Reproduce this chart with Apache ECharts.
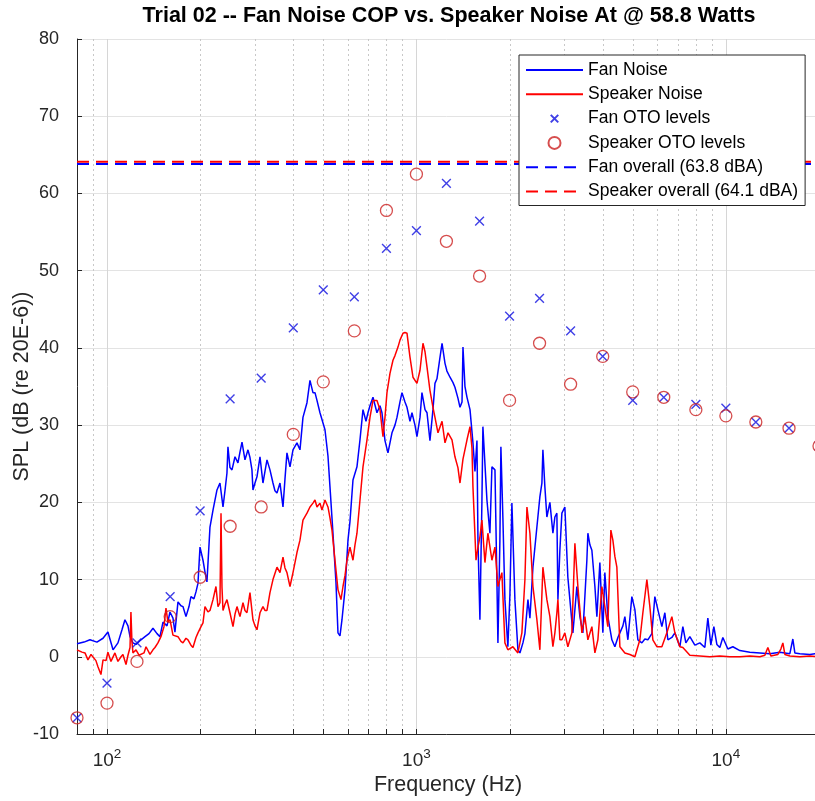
<!DOCTYPE html>
<html><head><meta charset="utf-8">
<script src="https://cdn.jsdelivr.net/npm/echarts@6/dist/echarts.min.js"></script>
<style>html,body{margin:0;padding:0;background:#fff}#c{width:815px;height:801px}</style>
</head><body><div id="c"></div>
<script>
// ---- data (frequency Hz, level dB) ----
const fanNoise = [[80,1.7],[84.3,1.9],[88.1,2.2],[92.8,1.9],[97.1,2.4],[100.7,3.2],[104.6,0.9],[108.5,1.8],[111.8,3.5],[114.3,4.8],[116.9,4.0],[118.7,2.6],[121.3,1.8],[124.1,1.6],[128.8,2.2],[132.7,2.6],[136.7,3.0],[140.8,3.7],[145.1,3.0],[148.3,2.6],[151.7,4.5],[156.3,4.0],[159.8,5.8],[163.4,5.0],[165.8,3.2],[169.6,7.1],[173.4,6.6],[176.0,6.5],[180.0,5.2],[184.1,6.5],[186.8,7.8],[191.0,7.5],[193.9,8.4],[196.8,9.5],[199.8,14.2],[204.3,12.5],[207.3,11.0],[210.4,9.7],[215.2,16.8],[220.1,19.0],[226.7,21.6],[231.8,22.5],[237.1,19.4],[240.6,21.5],[244.2,23.8],[246.0,27.2],[249.7,24.5],[253.5,24.2],[259.2,25.9],[265.0,25.1],[269.0,26.5],[273.1,27.8],[279.2,25.5],[285.5,26.8],[289.8,25.8],[294.1,24.2],[296.3,21.6],[300.8,22.5],[305.3,23.3],[312.2,25.9],[319.2,22.5],[324.0,24.0],[328.9,25.5],[336.3,24.2],[343.9,22.5],[349.0,21.5],[354.3,21.2],[362.3,22.5],[370.5,19.4],[376.0,23.0],[381.6,26.4],[390.3,24.6],[399.1,26.8],[411.1,27.7],[420.4,26.8],[429.9,31.0],[442.9,32.9],[452.9,35.8],[463.1,34.2],[470.1,34.2],[477.1,33.2],[487.9,31.6],[506.4,29.4],[517.8,26.0],[525.6,22.0],[537.4,16.0],[549.6,9.6],[557.8,3.1],[566.2,2.7],[574.7,4.8],[587.7,8.7],[600.9,15.1],[609.9,17.5],[623.7,22.9],[642.5,24.6],[657.1,28.1],[671.9,32.0],[687.0,30.5],[697.3,31.6],[707.8,32.5],[723.8,33.6],[745.6,31.6],[762.5,32.5],[773.9,31.6],[791.4,28.0],[809.2,26.4],[833.7,29.0],[852.5,30.0],[865.3,31.0],[884.9,33.0],[898.1,34.2],[918.4,33.0],[932.2,32.3],[953.2,30.5],[967.5,31.6],[989.3,30.0],[1004,28.5],[1027,31.0],[1042,34.2],[1066,32.0],[1082,31.6],[1106,28.0],[1131,32.0],[1148,35.4],[1165,36.0],[1192,38.8],[1210,40.6],[1237,38.0],[1255,37.0],[1284,36.2],[1313,35.5],[1332,34.9],[1362,33.5],[1383,32.3],[1404,33.0],[1414,40.1],[1435,35.0],[1457,33.6],[1490,32.0],[1523,27.7],[1546,24.0],[1569,28.0],[1581,15.0],[1604,4.8],[1628,20.0],[1640,29.8],[1665,25.0],[1690,20.3],[1728,16.0],[1754,24.6],[1794,24.2],[1820,10.0],[1834,1.8],[1861,15.0],[1875,27.2],[1903,18.0],[1932,7.4],[1975,1.3],[2005,8.0],[2035,19.9],[2081,7.4],[2128,0.9],[2160,0.5],[2209,1.8],[2242,3.0],[2293,7.4],[2327,5.0],[2380,11.6],[2451,16.8],[2506,20.7],[2544,22.5],[2563,26.8],[2601,22.0],[2640,18.1],[2700,20.0],[2761,16.0],[2802,18.1],[2844,18.6],[2866,7.4],[2908,13.8],[2952,18.6],[3018,19.4],[3086,10.3],[3133,7.4],[3204,3.1],[3300,9.1],[3375,5.2],[3451,3.1],[3555,12.5],[3582,16.0],[3636,14.5],[3690,13.8],[3774,9.1],[3830,5.2],[3916,12.2],[4004,3.1],[4064,10.9],[4156,5.2],[4282,2.2],[4379,1.3],[4478,2.5],[4545,3.1],[4648,4.0],[4717,5.2],[4824,2.2],[4969,7.8],[5082,6.1],[5196,2.2],[5353,1.8],[5474,2.3],[5597,2.2],[5766,3.0],[5896,7.8],[6029,6.1],[6212,3.9],[6352,5.7],[6495,2.2],[6692,2.5],[6843,3.1],[7102,1.3],[7262,3.9],[7426,1.8],[7650,2.6],[7940,1.5],[8241,1.8],[8553,1.2],[8746,5.0],[8944,1.5],[9146,3.9],[9353,1.6],[9563,1.2],[9779,2.5],[10150,1.0],[10535,1.3],[11098,0.8],[11956,0.6],[12880,0.5],[13873,0.4],[14946,0.6],[16100,0.4],[16463,2.3],[16710,0.5],[17338,0.4],[18681,0.3],[19396,0.4],[20000,0.4]];

const speakerNoise = [[80,0.9],[83.0,0.6],[84.9,0.5],[86.8,-0.4],[88.8,0.3],[90.1,0.5],[92.1,-0.5],[93.5,-1.3],[95.6,-2.3],[97.1,-0.4],[99.3,-0.5],[100.7,0.6],[103.0,-0.6],[106.1,0.5],[108.5,-0.6],[111.0,0.0],[112.6,0.3],[115.2,-1.0],[116.9,0.2],[118.7,1.2],[119.5,5.8],[120.4,2.0],[121.3,0.5],[124.1,0.9],[126.9,0.2],[128.8,0.0],[131.7,0.5],[133.7,1.3],[137.7,0.3],[140.8,0.9],[142.9,1.2],[146.1,1.8],[149.4,2.6],[152.8,3.9],[155.1,6.3],[157.4,4.5],[159.8,4.8],[163.4,2.8],[165.8,3.0],[169.6,2.6],[173.4,2.0],[176.0,1.8],[180.0,2.4],[182.7,2.2],[186.8,1.5],[189.6,1.2],[193.9,2.5],[196.8,3.1],[201.3,3.9],[204.3,4.4],[207.3,6.5],[212.0,5.8],[215.2,6.0],[220.1,7.4],[225.0,9.1],[228.4,6.5],[231.8,7.0],[233.6,18.6],[235.3,9.0],[237.1,6.0],[240.6,6.8],[244.2,7.4],[249.7,5.7],[255.4,3.9],[259.2,5.5],[263.1,6.5],[269.0,5.2],[275.1,7.0],[279.2,6.0],[283.4,5.7],[289.8,8.3],[296.3,4.8],[300.8,4.0],[305.3,3.5],[312.2,5.7],[319.2,6.5],[324.0,6.0],[328.9,6.0],[336.3,8.3],[343.9,10.0],[354.3,11.6],[362.3,10.9],[370.5,12.9],[376.0,11.5],[381.6,10.9],[390.3,9.1],[399.1,10.9],[411.1,13.5],[420.4,15.1],[429.9,17.7],[442.9,18.6],[452.9,19.4],[463.1,19.9],[470.1,20.3],[477.1,19.4],[487.9,19.9],[495.2,19.0],[506.4,20.3],[517.8,19.4],[525.6,18.0],[533.5,16.4],[545.5,12.5],[557.8,8.7],[570.4,7.4],[579.0,9.1],[587.7,10.5],[596.5,12.5],[609.9,14.2],[623.7,12.5],[633.1,14.5],[642.5,16.0],[657.1,20.3],[671.9,24.6],[692.2,28.1],[707.8,31.0],[723.8,33.2],[745.6,33.2],[762.5,32.0],[779.7,28.5],[791.4,31.0],[803.2,34.2],[821.4,36.7],[839.9,38.4],[852.5,39.0],[871.8,40.1],[884.9,41.0],[904.8,41.9],[918.4,42.0],[932.2,41.9],[953.2,38.8],[974.7,36.2],[1004,35.4],[1027,37.1],[1050,40.6],[1066,39.5],[1082,37.5],[1106,34.5],[1131,32.3],[1148,31.0],[1174,29.0],[1210,30.5],[1237,27.7],[1265,29.0],[1303,28.1],[1332,25.9],[1362,24.5],[1383,22.5],[1414,25.6],[1457,28.1],[1490,29.8],[1512,27.0],[1523,22.0],[1558,12.5],[1581,14.2],[1604,15.5],[1628,17.7],[1665,12.2],[1702,16.0],[1754,12.5],[1794,14.2],[1834,9.1],[1889,10.9],[1932,1.8],[1975,0.9],[2050,1.3],[2128,0.5],[2192,3.1],[2242,10.0],[2276,19.4],[2327,16.0],[2380,9.1],[2451,4.8],[2506,0.9],[2563,11.6],[2640,7.4],[2700,5.2],[2761,1.3],[2802,3.1],[2844,5.7],[2866,7.4],[2908,2.2],[2952,2.2],[3018,3.1],[3086,1.3],[3180,3.1],[3252,14.7],[3325,9.1],[3426,3.1],[3503,5.2],[3582,2.2],[3690,3.9],[3774,0.5],[3859,2.2],[3975,9.1],[4064,6.5],[4156,3.9],[4250,16.4],[4314,15.1],[4379,13.0],[4444,11.6],[4545,1.3],[4717,0.5],[4896,0.3],[5082,0.0],[5274,2.2],[5393,5.7],[5556,10.0],[5681,6.5],[5809,2.2],[5985,1.3],[6212,1.3],[6447,3.1],[6692,5.2],[6843,3.1],[7102,1.3],[7262,1.2],[7650,0.2],[8241,0.1],[8878,0.0],[9563,0.1],[10302,0.0],[11098,0.0],[11956,0.1],[12880,0.0],[13368,0.2],[13670,1.2],[13977,0.1],[14726,0.3],[15058,1.0],[15285,1.8],[15513,0.3],[16100,0.1],[17338,0.0],[18681,0.1],[20000,0.0]];

const otoFreq = [80,100,125,160,200,250,315,400,500,630,800,1000,1250,1600,2000,2500,3150,4000,5000,6300,8000,10000,12500,16000,20000];
const fanOto = [-7.9,-3.4,1.8,7.8,18.9,33.4,36.1,42.6,47.5,46.6,52.9,55.2,61.3,56.4,44.1,46.4,42.2,38.9,33.2,33.6,32.7,32.2,30.4,29.6,27.3];
const speakerOto = [-7.9,-6.0,-0.6,5.2,10.3,16.9,19.4,28.8,35.6,42.2,57.8,62.5,53.8,49.3,33.2,40.6,35.3,38.9,34.3,33.6,32.0,31.2,30.4,29.6,27.3];
const fanOverall = 63.8;
const speakerOverall = 64.1;
const minorFreqs = [90,200,300,400,500,600,700,800,900,2000,3000,4000,5000,6000,7000,8000,9000];
const xMin = 80, xMax = 20000, yMin = -10, yMax = 80, yStep = 10;
const names = ['Fan Noise','Speaker Noise','Fan OTO levels','Speaker OTO levels','Fan overall (63.8 dBA)','Speaker overall (64.1 dBA)'];

const FONT = 'Arial, "Liberation Sans", Helvetica, sans-serif';
const AX = '#262626';
const BLUE = '#0000ff', RED = '#ff0000';
const hideSym = {color: 'rgba(0,0,0,0)', borderColor: 'rgba(0,0,0,0)', borderWidth: 0, opacity: 0};

const chart = echarts.init(document.getElementById('c'), null, {renderer: 'canvas'});
chart.setOption({
  animation: false,
  backgroundColor: '#ffffff',
  textStyle: {fontFamily: FONT},
  title: {
    text: 'Trial 02 -- Fan Noise COP vs. Speaker Noise At @ 58.8 Watts',
    left: 444, top: 0, textAlign: 'center',
    textStyle: {fontSize: 21.5, fontWeight: 'bold', color: '#000', fontFamily: FONT}
  },
  grid: {left: 77, right: -4, top: 39, bottom: 67, containLabel: false, outerBoundsMode: 'none'},
  legend: {
    orient: 'vertical', left: 519, top: 55, z: 20,
    padding: [6, 7, 5, 6], itemGap: 6.3, itemWidth: 57, itemHeight: 12,
    backgroundColor: '#fff', borderColor: AX, borderWidth: 1,
    selectedMode: false,
    textStyle: {fontSize: 17.5, color: '#000', fontFamily: FONT},
    data: [
      {name: names[0], itemStyle: hideSym},
      {name: names[1], itemStyle: hideSym},
      {name: names[2]},
      {name: names[3]},
      {name: names[4], itemStyle: hideSym},
      {name: names[5], itemStyle: hideSym}
    ]
  },
  xAxis: {
    type: 'log', logBase: 10, min: xMin, max: xMax,
    name: 'Frequency (Hz)', nameLocation: 'middle', nameGap: 40, nameMoveOverlap: false,
    nameTextStyle: {fontSize: 21.5, color: AX, fontFamily: FONT},
    axisLine: {show: true, onZero: false, lineStyle: {color: AX, width: 1}},
    axisTick: {show: true, inside: true, length: 5, lineStyle: {color: AX}},
    splitLine: {show: true, lineStyle: {color: '#d6d6d6', width: 1}},
    axisLabel: {
      margin: 13,
      formatter: function (v) {
        const e = Math.round(Math.log10(v));
        return Math.abs(v - Math.pow(10, e)) < 1e-6 * v ? '{b|10}{s|' + e + '}' : '';
      },
      rich: {
        b: {fontSize: 19, color: AX, fontFamily: FONT, verticalAlign: 'bottom', padding: [4, 0, 0, 0]},
        s: {fontSize: 13.5, color: AX, fontFamily: FONT, verticalAlign: 'top'}
      }
    }
  },
  yAxis: {
    type: 'value', min: yMin, max: yMax, interval: yStep,
    name: 'SPL (dB (re 20E-6))', nameLocation: 'middle', nameGap: 44, nameMoveOverlap: false,
    nameTextStyle: {fontSize: 21.5, color: AX, fontFamily: FONT},
    axisLine: {show: true, onZero: false, lineStyle: {color: AX, width: 1}},
    axisTick: {show: true, inside: true, length: 5, lineStyle: {color: AX}},
    splitLine: {show: true, lineStyle: {color: '#e3e3e3', width: 1}},
    axisLabel: {margin: 18, fontSize: 18, color: AX, fontFamily: FONT}
  },
  series: [
    {
      type: 'custom', name: 'minorGrid', silent: true, z: 1,
      data: minorFreqs.map(f => [f, yMin]),
      renderItem: function (params, api) {
        const p = api.coord([api.value(0), yMin]);
        const cs = params.coordSys;
        const x = Math.round(p[0]) + 0.5;
        const top = cs.y, bottom = cs.y + cs.height;
        return {type: 'group', children: [
          {type: 'line', shape: {x1: x, y1: top, x2: x, y2: bottom}, style: {stroke: '#c8c8c8', lineWidth: 1, lineDash: [2, 3]}},
          {type: 'line', shape: {x1: x, y1: bottom, x2: x, y2: bottom - 5}, style: {stroke: AX, lineWidth: 1}}
        ]};
      }
    },
    {
      type: 'line', name: names[0], data: fanNoise, symbol: 'none', z: 3,
      lineStyle: {color: BLUE, width: 1.5}, itemStyle: {color: BLUE}
    },
    {
      type: 'line', name: names[1], data: speakerNoise, symbol: 'none', z: 3,
      lineStyle: {color: RED, width: 1.5}, itemStyle: {color: RED}
    },
    {
      type: 'scatter', name: names[2], z: 4,
      data: otoFreq.map((f, i) => [f, fanOto[i]]),
      symbol: 'path://M-3,-3M13,13M0,0L10,10M10,0L0,10', symbolSize: 14,
      itemStyle: {color: 'rgba(0,0,0,0)', borderColor: '#1010e0', borderWidth: 1.4}
    },
    {
      type: 'scatter', name: names[3], z: 4,
      data: otoFreq.map((f, i) => [f, speakerOto[i]]),
      symbol: 'circle', symbolSize: 12,
      itemStyle: {color: 'rgba(0,0,0,0)', borderColor: '#cc2222', borderWidth: 1.3}
    },
    {
      type: 'line', name: names[4], symbol: 'none', z: 4,
      data: [[xMin, fanOverall], [xMax, fanOverall]],
      lineStyle: {color: BLUE, width: 2, type: [12, 7]}, itemStyle: {color: BLUE}
    },
    {
      type: 'line', name: names[5], symbol: 'none', z: 4,
      data: [[xMin, speakerOverall], [xMax, speakerOverall]],
      lineStyle: {color: RED, width: 2, type: [12, 7]}, itemStyle: {color: RED}
    }
  ]
});
</script></body></html>
